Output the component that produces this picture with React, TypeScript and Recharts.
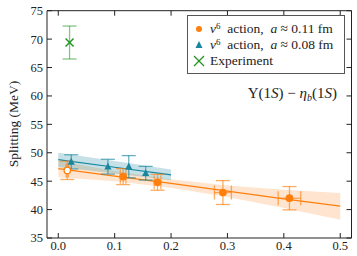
import React from 'react';
import {
  ComposedChart,
  XAxis,
  YAxis,
  Area,
  Line,
  Scatter,
  ErrorBar,
  Legend,
  Customized,
} from 'recharts';

const ORANGE = '#ff7f0e';
const TEAL = '#17869e';
const GREEN = '#1e961e';
const FONT = '"Liberation Serif", "DejaVu Serif", serif';

const xTicks = [0, 0.1, 0.2, 0.3, 0.4, 0.5];
const xTickLabels = ['0.0', '0.1', '0.2', '0.3', '0.4', '0.5'];
const yTicks = [35, 40, 45, 50, 55, 60, 65, 70, 75];

// fit lines and error bands
const fitX = [0, 0.1, 0.2, 0.3, 0.4, 0.5];
const orangeFit = [47.2, 45.9, 44.6, 43.25, 41.9, 40.6];
const orangeLo = [45.7, 45.0, 43.85, 42.2, 40.3, 38.2];
const orangeHi = [48.6, 46.8, 45.35, 44.25, 43.5, 42.9];
const tealFit = [48.8, 47.45, 46.1];
const tealLo = [47.5, 46.35, 45.15];
const tealHi = [50.0, 48.55, 47.05];

// data points
const orangeX = [0.016, 0.115, 0.176, 0.292, 0.41];
const orangeY = [46.9, 45.8, 44.8, 43.0, 42.0];
const orangeYErr = [1.6, 1.4, 1.4, 2.1, 2.05];
const orangeXErr = [0.002, 0.005, 0.006, 0.015, 0.02];

const tealX = [0.023, 0.088, 0.125, 0.155];
const tealY = [48.4, 47.55, 47.55, 46.4];
const tealYErr = [1.25, 1.3, 1.95, 1.2];

const expX = [0.02];
const expY = [69.4];
const expYErr = [2.9];

const bandRows = fitX.map((x, i) => ({
  x,
  of: orangeFit[i],
  ob: [orangeLo[i], orangeHi[i]],
  tf: i < tealFit.length ? tealFit[i] : null,
  tb: i < tealFit.length ? [tealLo[i], tealHi[i]] : null,
}));

const orangePts = orangeX.map((x, i) => ({
  x,
  y: orangeY[i],
  ey: orangeYErr[i],
  ex: orangeXErr[i],
  open: i === 0,
}));
const tealPts = tealX.map((x, i) => ({ x, y: tealY[i], ey: tealYErr[i] }));
const expPts = expX.map((x, i) => ({ x, y: expY[i], ey: expYErr[i] }));

const OrangeDot = (p: any) => (
  <circle
    cx={p.cx}
    cy={p.cy}
    r={3.2}
    fill={p.payload && p.payload.open ? '#fff' : ORANGE}
    stroke={ORANGE}
    strokeWidth={1.3}
  />
);
const TealTri = (p: any) => (
  <polygon
    points={`${p.cx},${p.cy - 4} ${p.cx - 3.6},${p.cy + 2.8} ${p.cx + 3.6},${p.cy + 2.8}`}
    fill={TEAL}
  />
);
const GreenX = (p: any) => (
  <g stroke={GREEN} strokeWidth={1.4}>
    <line x1={p.cx - 4} y1={p.cy - 4} x2={p.cx + 4} y2={p.cy + 4} />
    <line x1={p.cx - 4} y1={p.cy + 4} x2={p.cx + 4} y2={p.cy - 4} />
  </g>
);

const legendRows = [
  { kind: 'o', a: '0.11' },
  { kind: 't', a: '0.08' },
  { kind: 'x', a: '' },
];

const renderLegend = () => (
  <div
    style={{
      border: '1px solid #555',
      background: '#fff',
      padding: '5px 4px 4px 5px',
      fontFamily: FONT,
      fontSize: 13.5,
      color: '#222',
      width: 158,
      boxSizing: 'border-box',
    }}
  >
    {legendRows.map((r, i) => (
      <div key={i} style={{ display: 'flex', alignItems: 'center', height: 16, whiteSpace: 'nowrap' }}>
        <svg width={14} height={12} style={{ marginRight: 3 }}>
          {r.kind === 'o' && <circle cx={6} cy={6} r={3} fill={ORANGE} />}
          {r.kind === 't' && <polygon points="6,2 2.5,9 9.5,9" fill={TEAL} />}
          {r.kind === 'x' && (
            <g stroke={GREEN} strokeWidth={1.3}>
              <line x1={1} y1={1} x2={11} y2={11} />
              <line x1={1} y1={11} x2={11} y2={1} />
            </g>
          )}
        </svg>
        {r.kind === 'x' ? (
          <span>Experiment</span>
        ) : (
          <span>
            <i>v</i>
            <sup style={{ fontSize: 9, verticalAlign: 4, lineHeight: 0 }}>6</sup>
            {'\u00a0 action,\u00a0\u00a0'}
            <i>a</i>
            {' \u2248 ' + r.a + ' fm'}
          </span>
        )}
      </div>
    ))}
  </div>
);

const Texts = () => (
  <g fontFamily={FONT} fill="#222">
    <text x={13} y={124} fontSize={13.5} textAnchor="middle" dominantBaseline="central" transform="rotate(-90 13 124)">
      Splitting (MeV)
    </text>
    <text x={337} y={98} fontSize={15} textAnchor="end">
      {'\u03a5(1'}
      <tspan fontStyle="italic">S</tspan>
      {') \u2212 '}
      <tspan fontStyle="italic">η</tspan>
      <tspan fontStyle="italic" fontSize={10} dy={3}>b</tspan>
      <tspan dy={-3}>(1</tspan>
      <tspan fontStyle="italic">S</tspan>
      {')'}
    </text>
  </g>
);

const tickStyle = { fontFamily: FONT, fontSize: 12.5, fill: '#222' };

export default function App() {
  return (
    <div style={{ position: 'absolute', left: 0, top: 0 }}>
      <ComposedChart
        width={357}
        height={256}
        data={bandRows}
        margin={{ top: 9.7, right: 4.5, bottom: 0, left: 46 }}
      >
        <XAxis
          xAxisId="b"
          dataKey="x"
          type="number"
          domain={[-0.02, 0.52]}
          ticks={xTicks}
          tickFormatter={(v: number) => xTickLabels[xTicks.indexOf(v)] ?? String(v)}
          height={18}
          tickSize={-5}
          tickMargin={8}
          tick={tickStyle}
          stroke="#222"
          allowDataOverflow
        />
        <XAxis
          xAxisId="t"
          dataKey="x"
          type="number"
          orientation="top"
          domain={[-0.02, 0.52]}
          ticks={xTicks}
          tickFormatter={() => ''}
          height={1}
          tickSize={-5}
          tick={tickStyle}
          stroke="#222"
          allowDataOverflow
        />
        <YAxis
          yAxisId="l"
          type="number"
          domain={[35, 75]}
          ticks={yTicks}
          width={1}
          tickSize={-5}
          tickMargin={9}
          tick={tickStyle}
          stroke="#222"
          allowDataOverflow
        />
        <YAxis
          yAxisId="r"
          orientation="right"
          type="number"
          domain={[35, 75]}
          ticks={yTicks}
          tickFormatter={() => ''}
          width={1}
          tickSize={-5}
          tick={tickStyle}
          stroke="#222"
          allowDataOverflow
        />
        <Area
          xAxisId="b"
          yAxisId="l"
          type="linear"
          dataKey="ob"
          fill={ORANGE}
          fillOpacity={0.2}
          stroke="none"
          isAnimationActive={false}
          activeDot={false}
        />
        <Area
          xAxisId="b"
          yAxisId="l"
          type="linear"
          dataKey="tb"
          fill={TEAL}
          fillOpacity={0.25}
          stroke="none"
          isAnimationActive={false}
          activeDot={false}
        />
        <Line
          xAxisId="b"
          yAxisId="l"
          type="linear"
          dataKey="of"
          stroke={ORANGE}
          strokeWidth={1.2}
          dot={false}
          isAnimationActive={false}
        />
        <Line
          xAxisId="b"
          yAxisId="l"
          type="linear"
          dataKey="tf"
          stroke={TEAL}
          strokeWidth={1.2}
          dot={false}
          isAnimationActive={false}
        />
        <Scatter xAxisId="b" yAxisId="l" data={orangePts} dataKey="y" shape={OrangeDot} isAnimationActive={false}>
          <ErrorBar dataKey="ey" direction="y" width={7} stroke={ORANGE} strokeOpacity={0.65} strokeWidth={1.3} />
          <ErrorBar dataKey="ex" direction="x" width={7} stroke={ORANGE} strokeOpacity={0.65} strokeWidth={1.3} />
        </Scatter>
        <Scatter xAxisId="b" yAxisId="l" data={tealPts} dataKey="y" shape={TealTri} isAnimationActive={false}>
          <ErrorBar dataKey="ey" direction="y" width={7} stroke={TEAL} strokeOpacity={0.65} strokeWidth={1.3} />
        </Scatter>
        <Scatter xAxisId="b" yAxisId="l" data={expPts} dataKey="y" shape={GreenX} isAnimationActive={false}>
          <ErrorBar dataKey="ey" direction="y" width={7} stroke={GREEN} strokeOpacity={0.55} strokeWidth={1.3} />
        </Scatter>
        <Customized component={Texts} />
        <Legend
          layout="vertical"
          align="center"
          verticalAlign="middle"
          content={renderLegend}
          wrapperStyle={{ position: 'absolute', left: 187, top: 15, width: 'auto' }}
        />
      </ComposedChart>
    </div>
  );
}
